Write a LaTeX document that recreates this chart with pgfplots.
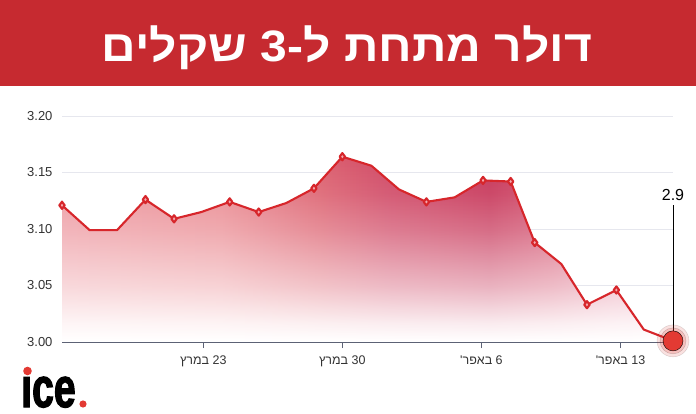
\documentclass[border=0pt]{standalone}
\usepackage{pgfplots}
\pgfplotsset{compat=1.18}
\usepackage{graphicx}
\usepackage{fontspec}
\setmainfont{Liberation Sans}
\newfontfamily\hebfont[Script=Hebrew]{Liberation Sans}
\newfontfamily\logofont[BoldFeatures={FakeBold=2.5}]{Liberation Sans}
\TeXXeTstate=1

\definecolor{banner}{HTML}{C62A30}
\definecolor{linered}{HTML}{D7262B}
\definecolor{mkpink}{HTML}{F4A9AF}
\definecolor{gridc}{HTML}{E6E7EE}
\definecolor{axisc}{HTML}{5C6275}
\definecolor{txt}{HTML}{333333}
\definecolor{dotred}{HTML}{E33A33}
\definecolor{cA}{HTML}{EC98A0}
\definecolor{cB}{HTML}{E98990}
\definecolor{cC}{HTML}{DC6270}
\definecolor{cD}{HTML}{CF4966}
\definecolor{cE}{HTML}{C63558}
\definecolor{cF}{HTML}{D24F6C}
\definecolor{cG}{HTML}{DE7690}
\definecolor{cH}{HTML}{E992A8}

\pgfdeclarehorizontalshading{areashade}{100bp}{color(0bp)=(cA); color(25bp)=(cA); color(38bp)=(cB); color(46bp)=(cC); color(52bp)=(cD); color(60bp)=(cE); color(65bp)=(cF); color(70bp)=(cG); color(75bp)=(cH); color(100bp)=(cH)}
\pgfdeclareverticalshading{whiteup}{100bp}{color(0bp)=(white); color(25bp)=(white); color(30bp)=(white!90!black); color(40bp)=(white!62!black); color(55bp)=(white!28!black); color(65bp)=(white!10!black); color(75bp)=(black); color(100bp)=(black)}

\pgfplotstableread{
x y
15.89 3.121
17.28 3.099
18.66 3.099
20.09 3.126
21.53 3.109
22.90 3.115
24.33 3.124
25.79 3.115
27.18 3.123
28.57 3.136
30.00 3.164
31.46 3.156
32.85 3.135
34.23 3.124
35.65 3.128
37.08 3.143
38.47 3.142
39.68 3.088
41.02 3.069
42.31 3.033
43.79 3.046
45.17 3.011
46.64 3.001
}\usd

\begin{document}
\begin{tikzpicture}
\fill[white] (0,0) rectangle (696bp,414bp);
\fill[banner] (0,328bp) rectangle (696bp,414bp);
\node[anchor=base, text=white, inner sep=0pt] at (347bp,352bp)
  {\scalebox{1.09}[1]{\hebfont\bfseries\fontsize{44bp}{50bp}\selectfont\beginR דולר מתחת ל-3 שקלים\endR}};

\begin{axis}[
  at={(62bp,72bp)}, anchor=south west,
  scale only axis, width=611bp, height=226bp,
  xmin=15.89, xmax=46.64, ymin=3.0, ymax=3.2,
  clip=false,
  axis x line*=bottom, axis y line*=left,
  x axis line style={draw=axisc, line width=0.8bp},
  y axis line style={draw=none},
  ytick={3.00,3.05,3.10,3.15,3.20},
  ytick style={draw=none},
  ymajorgrids, grid style={gridc, line width=0.8bp},
  yticklabel style={/pgf/number format/fixed, /pgf/number format/precision=2, /pgf/number format/fixed zerofill, /pgf/number format/assume math mode=true, font=\fontsize{13bp}{15bp}\selectfont, text=txt},
  yticklabel shift=0bp,
  xtick={23,30,37,44},
  xtick style={draw=axisc, line width=0.8bp},
  major tick length=6bp,
  tick align=outside,
  xticklabels={
    {\beginR\beginL 23\endL{} \hebfont במרץ\endR},
    {\beginR\beginL 30\endL{} \hebfont במרץ\endR},
    {\beginR\beginL 6\endL{} \hebfont באפר'\endR},
    {\beginR\beginL 13\endL{} \hebfont באפר'\endR}},
  xticklabel style={font=\fontsize{12.5bp}{14bp}\selectfont, text=txt, yshift=-4bp},
]
\addplot[draw=none, shade, shading=areashade] table[x=x,y=y] {\usd} \closedcycle;
\addplot[draw=none, shade, shading=whiteup, blend mode=screen] table[x=x,y=y] {\usd} \closedcycle;
\addplot[color=linered, line width=2.1bp, line join=round, mark=diamond*, mark size=3.6bp,
  mark options={fill=mkpink, draw=none},
  mark indices={1,4,5,7,8,10,11,14,16,17,18,20,21}] table[x=x,y=y] {\usd};
\addplot[only marks, mark=*, mark size=16bp, mark options={fill=dotred, draw=none, opacity=0.15}] coordinates {(46.64,3.001)};
\addplot[only marks, mark=*, mark size=13bp, mark options={fill=dotred, draw=none, opacity=0.2}] coordinates {(46.64,3.001)};
\addplot[only marks, mark=*, mark size=10bp, mark options={fill=dotred, draw=none}] coordinates {(46.64,3.001)};
\draw[black, line width=0.9bp] (axis cs:46.64,3.121) -- (axis cs:46.64,3.001);
\node[anchor=base, inner sep=0pt, font=\fontsize{16bp}{18bp}\selectfont] at (axis cs:46.64,3.1248) {2.9};
\end{axis}

\node[anchor=base west, inner sep=0pt] at (21bp,7bp) {\scalebox{0.7}[1]{\logofont\bfseries\fontsize{56bp}{60bp}\selectfont ıce}};
\fill[dotred] (27.5bp,43bp) circle (4.3bp);
\fill[dotred] (83bp,10bp) circle (3.6bp);
\end{tikzpicture}
\end{document}
